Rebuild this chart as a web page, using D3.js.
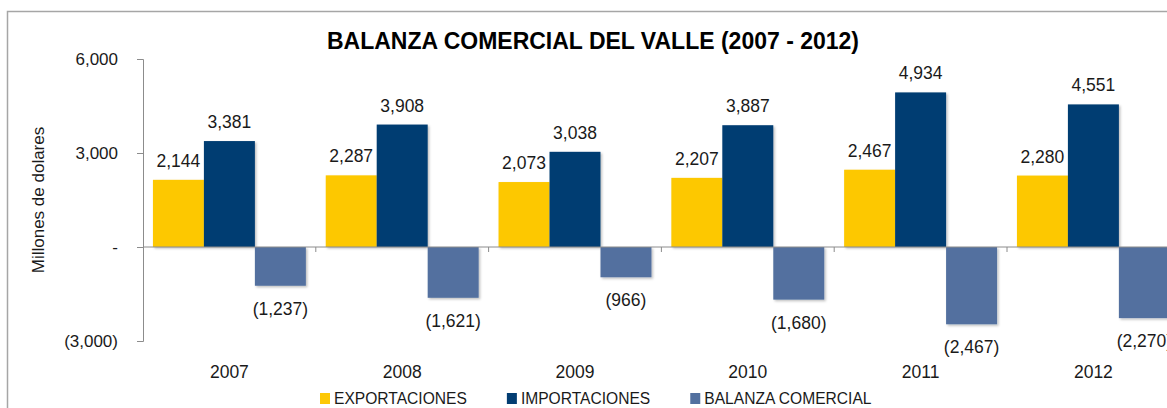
<!DOCTYPE html>
<html>
<head>
<meta charset="utf-8">
<script src="https://cdn.jsdelivr.net/npm/d3@7"></script>
<style>
  body { margin: 0; background: #fff; }
  text { font-family: "Liberation Sans", Arial, sans-serif; fill: #1a1a1a; }
</style>
</head>
<body>
<svg id="chart" width="1167" height="408"></svg>
<script>
// Chart data
const years = ['2007', '2008', '2009', '2010', '2011', '2012'];
const exportaciones = [2144, 2287, 2073, 2207, 2467, 2280];
const importaciones = [3381, 3908, 3038, 3887, 4934, 4551];
const balanza = [-1237, -1621, -966, -1680, -2467, -2270];
const seriesNames = ['EXPORTACIONES', 'IMPORTACIONES', 'BALANZA COMERCIAL'];
const seriesColors = ['#fdc806', '#023d72', '#52709f'];
const yTicks = [-3000, 0, 3000, 6000];

const series = [exportaciones, importaciones, balanza];

const svg = d3.select('#chart');

// Outer frame (cut off at the right and bottom like the source)
svg.append('rect')
    .attr('x', 7.5)
    .attr('y', 11.5)
    .attr('width', 1200)
    .attr('height', 430)
    .attr('fill', 'none')
    .attr('stroke', '#a6a6a6')
    .attr('stroke-width', 1.5);

// Soft drop shadow for the bars
const defs = svg.append('defs');
const shadow = defs.append('filter')
    .attr('id', 'shadow')
    .attr('x', '-10%').attr('y', '-10%')
    .attr('width', '130%').attr('height', '130%');
shadow.append('feDropShadow')
    .attr('dx', 1.5).attr('dy', 1.5)
    .attr('stdDeviation', 1.2)
    .attr('flood-color', '#000')
    .attr('flood-opacity', 0.25);

// Scales
const left = 143;
const step = 172.8;
const xScale = d3.scaleBand()
    .domain(years)
    .range([left, left + step * years.length])
    .paddingInner(0.115)
    .paddingOuter(0.0575);

const xSub = d3.scaleBand()
    .domain(d3.range(series.length))
    .range([0, xScale.bandwidth()]);

const yScale = d3.scaleLinear()
    .domain([-3000, 6000])
    .range([341, 59]);

// Title
svg.append('text')
    .attr('x', 593)
    .attr('y', 49)
    .attr('text-anchor', 'middle')
    .attr('font-size', 23)
    .attr('font-weight', 'bold')
    .style('fill', '#000')
    .text('BALANZA COMERCIAL DEL VALLE (2007 - 2012)');

// Y axis title
svg.append('text')
    .attr('transform', `translate(44,200) rotate(-90)`)
    .attr('text-anchor', 'middle')
    .attr('font-size', 17)
    .text('Millones de dolares');

// Y axis
const fmt = d3.format(',');
const tickLabel = d => d === 0 ? '-' : (d < 0 ? `(${fmt(-d)})` : fmt(d));

const yAxisG = svg.append('g')
    .attr('transform', `translate(${left},0)`)
    .call(d3.axisLeft(yScale)
        .tickValues(yTicks)
        .tickSize(6)
        .tickPadding(19)
        .tickFormat(tickLabel));
yAxisG.selectAll('path, line').attr('stroke', '#8c8c8c');
yAxisG.selectAll('text')
    .attr('font-size', 17)
    .attr('font-family', '"Liberation Sans", Arial, sans-serif')
    .style('fill', '#1a1a1a');

// Bars
const groups = svg.append('g')
    .selectAll('g')
    .data(years)
    .join('g')
    .attr('transform', d => `translate(${xScale(d)},0)`);

groups.selectAll('rect')
    .data((d, i) => series.map((s, k) => ({k: k, v: s[i]})))
    .join('rect')
    .attr('x', d => xSub(d.k))
    .attr('width', xSub.bandwidth())
    .attr('y', d => yScale(Math.max(0, d.v)))
    .attr('height', d => Math.abs(yScale(d.v) - yScale(0)))
    .attr('fill', d => seriesColors[d.k])
    .attr('filter', 'url(#shadow)');

// Value labels
groups.selectAll('text')
    .data((d, i) => series.map((s, k) => ({k: k, v: s[i]})))
    .join('text')
    .attr('x', d => xSub(d.k) + xSub.bandwidth() / 2)
    .attr('y', d => d.v >= 0 ? yScale(d.v) - 13 : yScale(d.v) + 29)
    .attr('text-anchor', 'middle')
    .attr('font-size', 17.5)
    .text(d => tickLabel(d.v));

// Zero line with category separators
const xAxisG = svg.append('g');
xAxisG.append('line')
    .attr('x1', left)
    .attr('x2', left + step * years.length)
    .attr('y1', yScale(0))
    .attr('y2', yScale(0))
    .attr('stroke', '#8c8c8c');
xAxisG.selectAll('.sep')
    .data(years)
    .join('line')
    .attr('class', 'sep')
    .attr('x1', d => xScale(d) + xScale.bandwidth() + xScale.step() * xScale.paddingInner() / 2)
    .attr('x2', d => xScale(d) + xScale.bandwidth() + xScale.step() * xScale.paddingInner() / 2)
    .attr('y1', yScale(0))
    .attr('y2', yScale(0) + 5)
    .attr('stroke', '#8c8c8c');

// Year labels
svg.append('g')
    .selectAll('text')
    .data(years)
    .join('text')
    .attr('x', d => xScale(d) + xScale.bandwidth() / 2)
    .attr('y', 378)
    .attr('text-anchor', 'middle')
    .attr('font-size', 17.5)
    .text(d => d);

// Legend
const legend = svg.append('g').attr('transform', 'translate(320,404)');
let lx = 0;
seriesNames.forEach((name, k) => {
  legend.append('rect')
      .attr('x', lx)
      .attr('y', -11)
      .attr('width', 10)
      .attr('height', 11)
      .attr('fill', seriesColors[k]);
  const t = legend.append('text')
      .attr('x', lx + 14)
      .attr('y', 0)
      .attr('font-size', 15.6)
      .text(name);
  lx += 14 + t.node().getComputedTextLength() + 40;
});
</script>
</body>
</html>
